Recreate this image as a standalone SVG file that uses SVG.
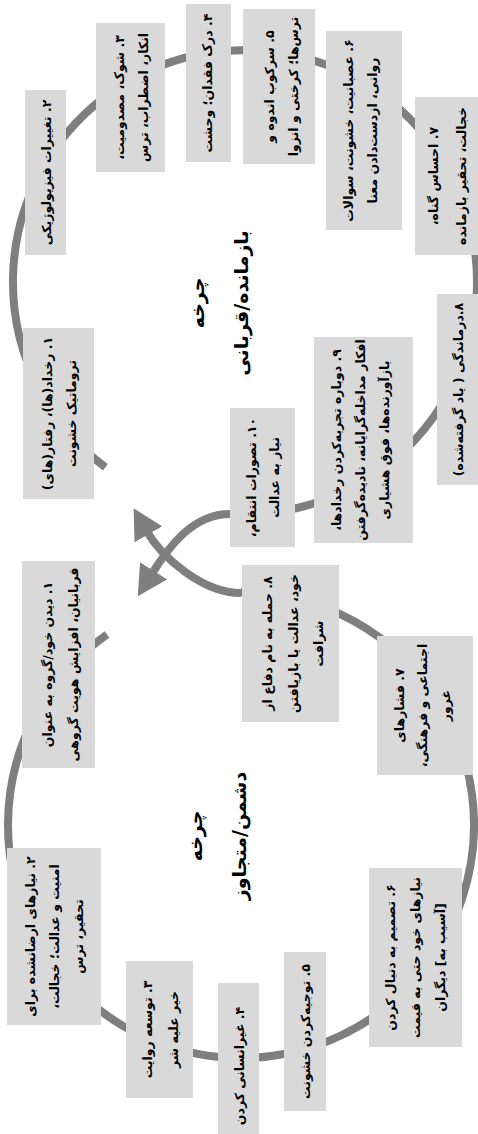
<svg xmlns="http://www.w3.org/2000/svg" width="478" height="1134" viewBox="0 0 478 1134">
<style>
.box{fill:#d9d9d9;stroke:none}
.ring{fill:none;stroke:#7f7f7f;stroke-width:8}
.t{font-family:"DejaVu Sans",sans-serif;font-size:12.5px;font-weight:bold;fill:#000;text-anchor:middle;direction:rtl;dominant-baseline:central}
.c{font-family:"DejaVu Sans",sans-serif;font-size:19px;font-weight:bold;fill:#000;text-anchor:middle;direction:rtl}
</style>
<defs>
<marker id="ah" markerUnits="userSpaceOnUse" markerWidth="30" markerHeight="32" viewBox="0 0 30 32" refX="5" refY="16" orient="auto">
<path d="M0,0 L30,16 L0,32 Z" fill="#7f7f7f"/>
</marker>
</defs>
<rect width="478" height="1134" fill="#fff"/>
<g id="connectors">
<path class="ring" d="M105.4,467.3 A232,232 0 1 1 230,513.5"/>
<path class="ring" d="M107,634.4 A233,233 0 1 0 241,592"/>
<path class="ring" marker-end="url(#ah)" d="M230,514 C192,514 168,548 151,575"/>
<path class="ring" marker-end="url(#ah)" d="M241,593 C203,593 162,558 146,530"/>
</g>
<g id="victim-title"><text class="c" transform="translate(224,303) rotate(-90)"><tspan x="0" y="-20">چرخه</tspan><tspan x="0" y="24">بازمانده/قربانی</tspan></text></g>
<g id="v1"><rect class="box" x="23" y="328" width="71" height="171"/><text class="t" transform="translate(58.5,413.5) rotate(-90)"><tspan x="0" y="-12">۱. رخداد(ها)، رفتار(های)</tspan><tspan x="0" y="12">تروماتیک خشونت</tspan></text></g>
<g id="v2"><rect class="box" x="25" y="90" width="41" height="165"/><text class="t" transform="translate(45.5,172.5) rotate(-90)"><tspan x="0" y="0">۲. تغییرات فیزیولوژیکی</tspan></text></g>
<g id="v3"><rect class="box" x="96" y="23" width="69" height="149"/><text class="t" transform="translate(130.5,97.5) rotate(-90)"><tspan x="0" y="-12">۳. شوک، مصدومیت،</tspan><tspan x="0" y="12">انکار، اضطراب، ترس</tspan></text></g>
<g id="v4"><rect class="box" x="186" y="4" width="45" height="158"/><text class="t" transform="translate(208.5,83) rotate(-90)"><tspan x="0" y="-2">۴. درک فقدان؛ وحشت</tspan></text></g>
<g id="v5"><rect class="box" x="243" y="9" width="72" height="155"/><text class="t" transform="translate(279,86.5) rotate(-90)"><tspan x="0" y="-10">۵. سرکوب اندوه و</tspan><tspan x="0" y="14">ترس‌ها؛ کرختی و انزوا</tspan></text></g>
<g id="v6"><rect class="box" x="326" y="31" width="76" height="199"/><text class="t" transform="translate(364,130.5) rotate(-90)"><tspan x="0" y="-16">۶. عصبانیت، خشونت، سوالات</tspan><tspan x="0" y="8">روانی، ازدست‌دادن معنا</tspan></text></g>
<g id="v7"><rect class="box" x="415" y="97" width="63" height="158"/><text class="t" transform="translate(446.5,176) rotate(-90)"><tspan x="0" y="-14">۷. احساس گناه،</tspan><tspan x="0" y="14">خجالت، تحقیر بازمانده</tspan></text></g>
<g id="v8"><rect class="box" x="437" y="294" width="41" height="191"/><text class="t" transform="translate(457.5,389.5) rotate(-90)"><tspan x="0" y="0">۸.درماندگی ( یاد گرفته‌شده)</tspan></text></g>
<g id="v9"><rect class="box" x="314" y="337" width="99" height="206"/><text class="t" transform="translate(363.5,440) rotate(-90)"><tspan x="0" y="-28">۹. دوباره تجربه‌کردن رخدادها،</tspan><tspan x="0" y="-4">افکار مداخله‌گرایانه، نادیده‌گرفتن</tspan><tspan x="0" y="20">بازآورنده‌ها، فوق هشیاری</tspan></text></g>
<g id="v10"><rect class="box" x="230" y="408" width="65" height="139"/><text class="t" transform="translate(262.5,477.5) rotate(-90)"><tspan x="0" y="-12">۱۰. تصورات انتقام،</tspan><tspan x="0" y="11">نیاز به عدالت</tspan></text></g>
<g id="aggressor-title"><text class="c" transform="translate(224,836) rotate(-90)"><tspan x="0" y="-22">چرخه</tspan><tspan x="0" y="22">دشمن/متجاوز</tspan></text></g>
<g id="a1"><rect class="box" x="22" y="561" width="73" height="207"/><text class="t" transform="translate(58.5,664.5) rotate(-90)"><tspan x="0" y="-12">۱. دیدن خود/گروه به عنوان</tspan><tspan x="0" y="14">قربانیان، افزایش هویت گروهی</tspan></text></g>
<g id="a2"><rect class="box" x="7" y="848" width="94" height="177"/><text class="t" transform="translate(54,936.5) rotate(-90)"><tspan x="0" y="-24">۲. نیازهای ارضانشده برای</tspan><tspan x="0" y="0">امنیت و عدالت؛ خجالت،</tspan><tspan x="0" y="24">تحقیر، ترس</tspan></text></g>
<g id="a3"><rect class="box" x="126" y="961" width="67" height="137"/><text class="t" transform="translate(159.5,1029.5) rotate(-90)"><tspan x="0" y="-13">۳. توسعه روایت</tspan><tspan x="0" y="13">خیر علیه شر</tspan></text></g>
<g id="a4"><rect class="box" x="218" y="983" width="41" height="151"/><text class="t" transform="translate(238.5,1066) rotate(-90)"><tspan x="0" y="0">۴. غیرانسانی کردن</tspan></text></g>
<g id="a5"><rect class="box" x="284" y="952" width="42" height="159"/><text class="t" transform="translate(305,1031.5) rotate(-90)"><tspan x="0" y="0">۵. توجیه‌کردن خشونت</tspan></text></g>
<g id="a6"><rect class="box" x="369" y="868" width="93" height="179"/><text class="t" transform="translate(415.5,957.5) rotate(-90)"><tspan x="0" y="-26">۶. تصمیم به دنبال کردن</tspan><tspan x="0" y="-1">نیازهای خود حتی به قیمت</tspan><tspan x="0" y="24">[آسیب به] دیگران</tspan></text></g>
<g id="a7"><rect class="box" x="377" y="636" width="96" height="139"/><text class="t" transform="translate(425,705.5) rotate(-90)"><tspan x="0" y="-26">۷. فشارهای</tspan><tspan x="0" y="-3">اجتماعی و فرهنگی،</tspan><tspan x="0" y="20">غرور</tspan></text></g>
<g id="a8"><rect class="box" x="242" y="565" width="97" height="157"/><text class="t" transform="translate(290.5,643.5) rotate(-90)"><tspan x="0" y="-24">۸. حمله به نام دفاع از</tspan><tspan x="0" y="2">خود، عدالت یا بازیافتن</tspan><tspan x="0" y="27">شرافت</tspan></text></g>
</svg>
